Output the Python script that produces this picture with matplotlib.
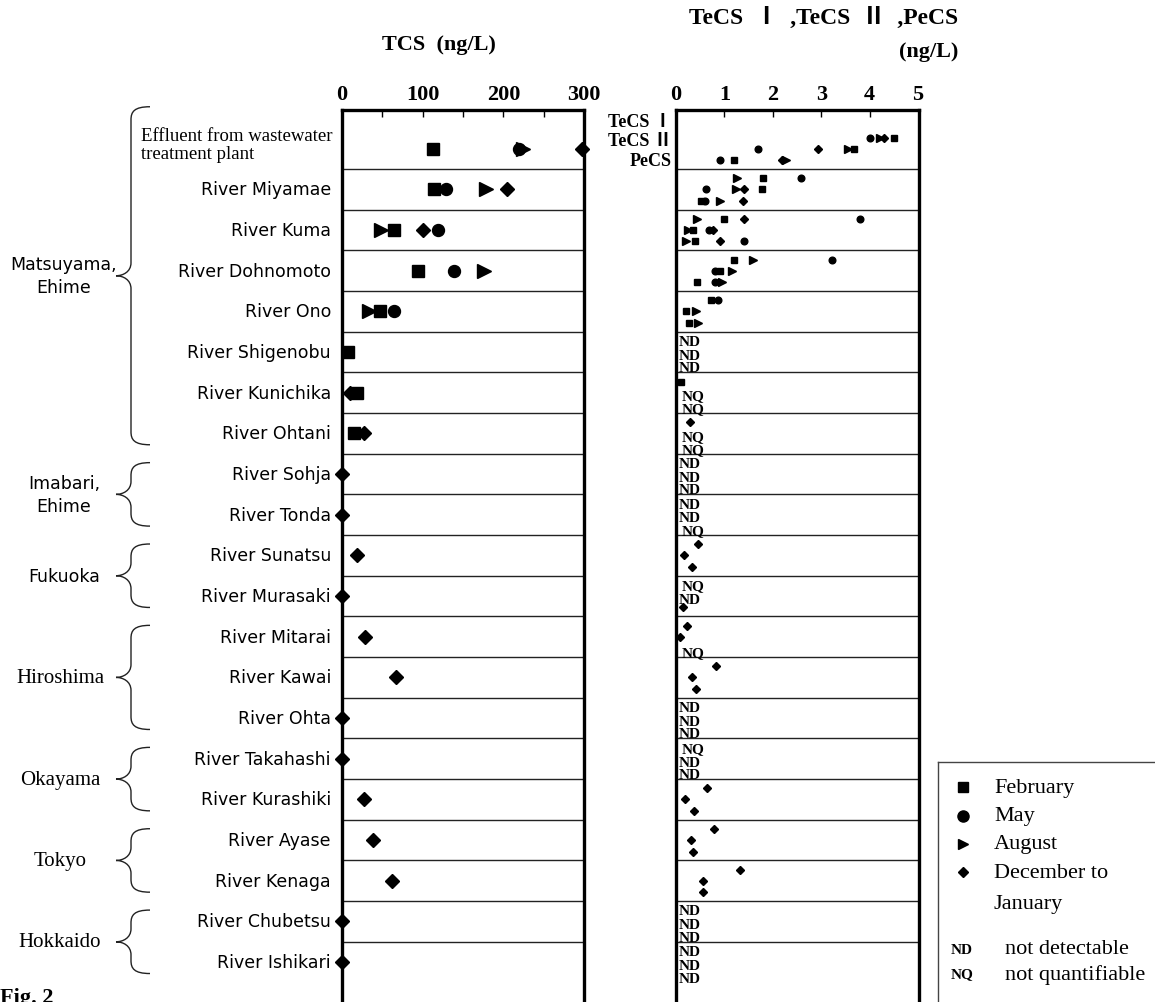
import numpy as np
import matplotlib.pyplot as plt
from matplotlib.path import Path
from matplotlib.patches import PathPatch

nan = np.nan

rivers = ["Effluent from wastewater\ntreatment plant", "River Miyamae", "River Kuma",
          "River Dohnomoto", "River Ono", "River Shigenobu", "River Kunichika",
          "River Ohtani", "River Sohja", "River Tonda", "River Sunatsu",
          "River Murasaki", "River Mitarai", "River Kawai", "River Ohta",
          "River Takahashi", "River Kurashiki", "River Ayase", "River Kenaga",
          "River Chubetsu", "River Ishikari"]

# (label, first row, last row, font)
groups = [("Matsuyama,\nEhime", 0, 7, "sans"), ("Imabari,\nEhime", 8, 9, "sans"),
          ("Fukuoka", 10, 11, "sans"), ("Hiroshima", 12, 14, "serif"),
          ("Okayama", 15, 16, "serif"), ("Tokyo", 17, 18, "serif"),
          ("Hokkaido", 19, 20, "serif")]

# TCS (ng/L)
tcs_feb = [113, 114, 64, 94, 47, 7, 18, 15] + [nan] * 13
tcs_may = [219, 129, 119, 139, 64] + [nan] * 16
tcs_aug = [224, 178, 48, 176, 34] + [nan] * 16
tcs_dec = [297, 205, 100, nan, nan, nan, 10, 27, 0, 0, 19, 0, 28, 67, 0, 0, 27, 38, 62, 0, 0]

# TeCS I (ng/L)
t1_feb = [4.50, 1.79, 0.99, 1.20, 0.72, nan, 0.10] + [nan] * 14
t1_may = [4.01, 2.58, 3.80, 3.22, 0.87] + [nan] * 16
t1_aug = [4.21, 1.25, 0.44, 1.60] + [nan] * 17
t1_dec = [4.30, nan, 1.40, nan, nan, nan, nan, 0.29, nan, nan, 0.45, nan, 0.23, 0.83,
          nan, nan, 0.64, 0.79, 1.32, nan, nan]
t1_flag = ["", "", "", "", "", "ND", "", "", "ND", "ND", "", "NQ", "", "", "ND", "NQ",
           "", "", "", "ND", "ND"]

# TeCS II (ng/L)
t2_feb = [3.68, 1.77, 0.36, 0.91, 0.21] + [nan] * 16
t2_may = [1.70, 0.63, 0.68, 0.81] + [nan] * 17
t2_aug = [3.56, 1.24, 0.25, 1.15, 0.41] + [nan] * 16
t2_dec = [2.94, 1.41, 0.77, nan, nan, nan, nan, nan, nan, nan, 0.17, nan, 0.08, 0.34,
          nan, nan, 0.19, 0.32, 0.56, nan, nan]
t2_flag = ["", "", "", "", "", "ND", "NQ", "NQ", "ND", "ND", "", "ND", "", "", "ND", "ND",
           "", "", "", "ND", "ND"]

# PeCS (ng/L)
pe_feb = [1.20, 0.52, 0.39, 0.43, 0.26] + [nan] * 16
pe_may = [0.91, 0.60, 1.40, 0.81] + [nan] * 17
pe_aug = [2.27, 0.91, 0.21, 0.96, 0.45] + [nan] * 16
pe_dec = [2.20, 1.39, 0.91, nan, nan, nan, nan, nan, nan, nan, 0.34, 0.15, nan, 0.41,
          nan, nan, 0.38, 0.36, 0.55, nan, nan]
pe_flag = ["", "", "", "", "", "ND", "NQ", "NQ", "ND", "NQ", "", "", "NQ", "", "ND", "ND",
           "", "", "", "ND", "ND"]

seasons = ["February", "May", "August", "December to"]
markers = ["s", "o", ">", "D"]

SERIF = ["Liberation Serif", "DejaVu Serif"]
SERIF_J = ["Liberation Serif", "Noto Sans CJK JP", "DejaVu Sans"]
SANS = ["DejaVu Sans"]

W, H = 1155, 1003
fig = plt.figure(figsize=(W / 100, H / 100), dpi=100)

rows = np.arange(len(rivers))
ytop, ybot = -0.95, 20.98
ax_h = (H - 111) / H

# ---------------- panels ----------------
axL = fig.add_axes([342 / W, 0, 242 / W, ax_h])
axR = fig.add_axes([676 / W, 0, 243 / W, ax_h])
axT = fig.add_axes([0, 0, 342 / W, ax_h])

for ax in (axL, axR):
    ax.set_ylim(ybot, ytop)
    ax.xaxis.tick_top()
    ax.set_yticks([])
    for s in ("left", "right", "top"):
        ax.spines[s].set_linewidth(2.4)
    ax.spines["bottom"].set_visible(False)
    ax.hlines(rows[:-1] + 0.5, *([0, 300] if ax is axL else [0, 5]), color="#222", lw=1)
    ax.tick_params(axis="x", which="both", direction="in", top=True, bottom=False,
                   pad=4, width=1, length=5)

axL.set_xlim(0, 300)
axL.set_xticks([0, 100, 200, 300])
axL.set_xticks([50, 150, 250], minor=True)
axR.set_xlim(0, 5.02)
axR.set_xticks([0, 1, 2, 3, 4, 5])
for ax in (axL, axR):
    for lab in ax.get_xticklabels():
        lab.set_fontfamily(SERIF)
        lab.set_fontweight("bold")
        lab.set_fontsize(16)
    # no tick marks on the panel edges
    ax.xaxis.get_major_ticks()[0].tick2line.set_visible(False)
    ax.xaxis.get_major_ticks()[-1].tick2line.set_visible(False)

big = {"s": 8.6, "o": 8.6, ">": 10, "D": 6.8}
for vals, m in zip([tcs_feb, tcs_may, tcs_aug, tcs_dec], markers):
    axL.plot(vals, rows, ls="none", marker=m, ms=big[m], color="black",
             clip_on=False, zorder=3)

small = {"s": 4.4, "o": 4.8, ">": 5.2, "D": 4.0}
mark_off = [-0.27, 0.0, 0.28]
text_off = [-0.26, 0.08, 0.39]
compounds = [([t1_feb, t1_may, t1_aug, t1_dec], t1_flag),
             ([t2_feb, t2_may, t2_aug, t2_dec], t2_flag),
             ([pe_feb, pe_may, pe_aug, pe_dec], pe_flag)]
for k, (series, flags) in enumerate(compounds):
    for vals, m in zip(series, markers):
        axR.plot(vals, rows + mark_off[k], ls="none", marker=m, ms=small[m],
                 color="black", clip_on=False, zorder=3)
    for i, f in enumerate(flags):
        if f:
            axR.text(0.06 if f == "ND" else 0.12, i + text_off[k], f, ha="left",
                     va="center", fontsize=11, fontweight="bold", family=SERIF,
                     clip_on=False, zorder=4)

for lab, off in zip(["TeCS \u2160", "TeCS \u2161", "PeCS"], [-0.66, -0.2, 0.3]):
    axR.text(-0.08, off, lab, ha="right", va="center", fontsize=13,
             fontweight="bold", family=SERIF_J, clip_on=False)

# ---------------- row labels, groups and braces ----------------
axT.set_xlim(0, 342)
axT.set_ylim(ybot, ytop)
axT.axis("off")
py = 40.67  # pixels per row

axT.text(141, -0.1, rivers[0], ha="left", va="center", fontsize=13.5,
         family=SERIF, linespacing=1.1)
for i, name in enumerate(rivers[1:], start=1):
    axT.text(331, i, name, ha="right", va="center", fontsize=12.5, family=SANS)


def brace(ax, top, bot, x_tip=116, x_v=131, x_end=150):
    r = 13 / py
    mid = (top + bot) / 2
    verts = [(x_end, top), (x_v + 3, top), (x_v, top + r * 0.4), (x_v, top + r),
             (x_v, mid - r), (x_v, mid - r * 0.3), (x_tip + 7, mid), (x_tip, mid),
             (x_tip + 7, mid), (x_v, mid + r * 0.3), (x_v, mid + r),
             (x_v, bot - r), (x_v, bot - r * 0.4), (x_v + 3, bot), (x_end, bot)]
    codes = [Path.MOVETO] + [Path.CURVE4] * 3 + [Path.LINETO] + [Path.CURVE4] * 6 + \
            [Path.LINETO] + [Path.CURVE4] * 3
    ax.add_patch(PathPatch(Path(verts, codes), fill=False, lw=1, color="#222",
                           clip_on=False))
    return mid


for name, first, last, font in groups:
    top = first - 0.5 + (0.22 if first > 0 else -0.53)
    bot = last + 0.5 - 0.22
    mid = brace(axT, top, bot)
    if font == "sans":
        axT.text(64, mid, name, ha="center", va="center", fontsize=12.5,
                 family=SANS, linespacing=1.35, multialignment="center")
    else:
        axT.text(60, mid, name, ha="center", va="center", fontsize=15, family=SERIF)

# ---------------- titles ----------------
fig.text(439 / W, 1 - 45 / H, "TCS  (ng/L)", ha="center", va="center", fontsize=16,
         fontweight="bold", family=SERIF)
fig.text(958 / W, 1 - 18 / H, "TeCS  \u2160  ,TeCS  \u2161  ,PeCS",
         ha="right", va="center", fontsize=17, fontweight="bold", family=SERIF_J)
fig.text(958 / W, 1 - 52 / H, "(ng/L)", ha="right", va="center", fontsize=16,
         fontweight="bold", family=SERIF)
fig.text(0, 1 - 988 / H, "Fig. 2", ha="left", va="top", fontsize=16,
         fontweight="bold", family=SERIF)

# ---------------- legend box ----------------
axG = fig.add_axes([938 / W, -0.03, (1180 - 938) / W, (H - 763) / H + 0.03])
axG.set_xlim(938, 1180)
axG.set_ylim(H + 0.03 * H, 763)
axG.set_xticks([])
axG.set_yticks([])
axG.spines["right"].set_visible(False)
axG.spines["bottom"].set_visible(False)
for s in ("left", "top"):
    axG.spines[s].set_linewidth(1)
    axG.spines[s].set_color("#444")

leg_ms = {"s": 7, "o": 8, ">": 7.5, "D": 5.5}
leg_y = [788, 817, 845, 873]
for m, lab, y in zip(markers, seasons, leg_y):
    axG.plot([963], [y], marker=m, ms=leg_ms[m], color="black", ls="none")
    axG.text(994, y, lab, ha="left", va="center", fontsize=16, family=SERIF)
axG.text(994, 905, "January", ha="left", va="center", fontsize=16, family=SERIF)
for code, desc, y in [("ND", "not detectable", 950), ("NQ", "not quantifiable", 975)]:
    axG.text(951, y, code, ha="left", va="center", fontsize=11, fontweight="bold",
             family=SERIF)
    axG.text(1005, y, desc, ha="left", va="center", fontsize=16, family=SERIF)

fig.savefig("out.png", dpi=100)
